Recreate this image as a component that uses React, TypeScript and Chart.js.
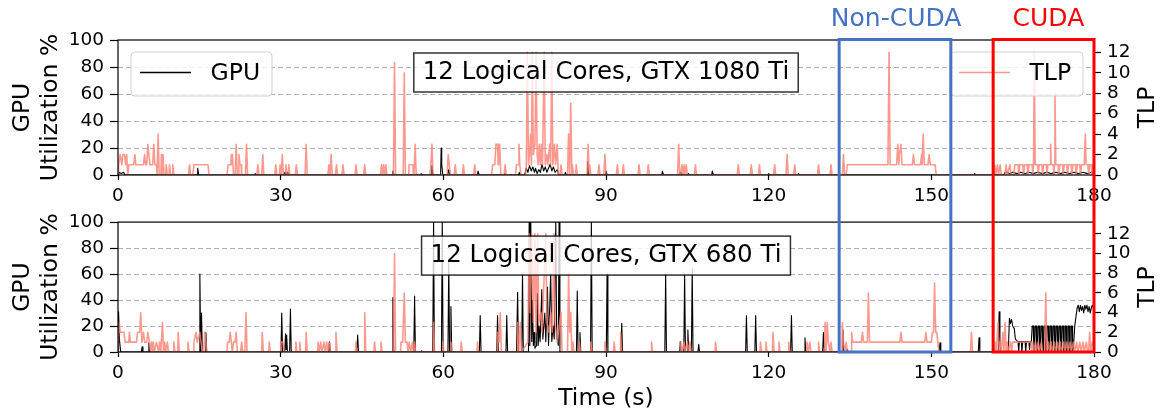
import React, { useEffect, useRef } from 'react';
import { Chart, registerables } from 'chart.js';

Chart.register(...registerables);

const FONT = "'DejaVu Sans', 'Liberation Sans', sans-serif";
Chart.defaults.font.family = FONT;

// ---------- tick labels / categories ----------
const xTicks = [0, 30, 60, 90, 120, 150, 180];
const gpuTicks = [0, 20, 40, 60, 80, 100];
const tlpTicks = [0, 2, 4, 6, 8, 10, 12];
const TLP_MAX = 13.2;
const panelTitles = ['12 Logical Cores, GTX 1080 Ti', '12 Logical Cores, GTX 680 Ti'];
const regionLabels = ['Non-CUDA', 'CUDA'];
const regionFrom = [133.0, 161.4];
const regionTo = [153.6, 180];
const regionLabelAt = [143.5, 171.6];
const regionColors = ['#4472c4', '#ff0000'];

const TLP_COLOR = 'rgba(250,128,114,0.8)';

// ---------- series: [time (s), value] ----------
// Top panel, GPU utilization (%)
const gpuTop: number[][] = [
  [0, 0], [0.3, 2], [0.6, 1], [1.0, 2], [1.3, 0],
  [14.6, 0], [14.7, 5], [14.9, 0],
  [25.2, 0], [25.3, 1], [25.5, 0],
  [30.6, 0], [30.8, 2], [31.0, 0], [31.3, 2], [31.5, 0],
  [50.6, 0], [50.7, 3], [50.9, 0],
  [55.8, 0], [55.9, 1], [56.1, 0],
  [57.8, 0], [57.9, 7], [58.1, 0],
  [59.5, 0], [59.6, 20], [59.7, 8], [59.9, 0],
  [60.8, 0], [61.0, 4], [61.2, 0],
  [66.3, 0], [66.4, 3], [66.6, 0],
  [71.2, 0], [71.3, 1], [71.5, 0],
  [73.9, 0], [74.0, 2], [74.2, 0],
  [75.0, 0], [75.3, 5], [75.6, 2], [75.9, 7], [76.2, 3], [76.5, 6], [76.8, 2], [77.0, 5], [77.3, 1],
  [77.6, 4], [77.9, 2], [78.2, 8], [78.5, 3], [78.8, 6], [79.1, 2], [79.4, 5], [79.7, 8], [80.0, 3],
  [80.3, 6], [80.6, 2], [81.0, 4], [81.3, 0],
  [82.4, 0], [82.5, 2], [82.7, 0],
  [86.5, 0], [86.6, 10], [86.8, 0],
  [89.9, 0], [90.0, 3], [90.2, 0],
  [100.3, 0], [100.4, 3], [100.6, 0],
  [103.5, 0], [103.7, 2], [104.0, 0],
  [105.0, 0], [105.2, 1], [105.4, 0],
  [109.5, 0], [109.6, 3], [109.8, 0],
  [119.9, 0], [120.0, 1], [120.2, 0],
  [125.4, 0], [125.5, 1], [125.7, 0],
  [157.9, 0], [158.0, 1], [158.2, 0],
  [163.4, 0], [163.6, 2], [164.0, 2], [164.4, 1], [165.0, 2], [165.8, 1], [166.5, 2], [167.3, 1],
  [168.0, 2], [168.8, 1], [169.6, 2], [170.5, 1], [171.3, 2], [172.1, 1], [173.0, 2], [173.8, 1],
  [174.6, 2], [175.5, 1], [176.3, 2], [177.1, 1], [178.0, 2], [178.8, 1], [179.5, 2], [180, 1],
];

// Top panel, TLP
const tlpTop: number[][] = [
  [0, 0], [0.1, 1], [0.4, 2], [0.7, 1], [0.9, 2], [1.2, 2], [1.4, 1], [1.6, 2], [1.8, 0],
  [2.0, 1], [2.9, 1], [3.1, 2], [3.3, 1], [4.7, 1], [4.9, 2], [5.1, 1], [5.3, 1], [5.5, 3], [5.7, 2],
  [5.9, 1], [6.4, 1], [6.6, 3], [6.8, 1], [7.1, 1], [7.2, 0], [7.4, 4], [7.6, 0], [7.9, 0], [8.0, 2],
  [8.15, 0], [8.3, 2], [8.5, 0], [8.8, 0], [8.9, 1], [9.1, 0], [9.4, 0], [9.5, 1], [9.7, 0], [10.0, 0],
  [10.1, 1], [10.3, 0],
  [13.0, 0], [13.2, 1], [13.4, 0], [13.8, 0], [14.0, 1], [16.6, 1], [16.8, 0],
  [20.1, 0], [20.3, 1], [20.8, 1], [20.9, 2], [21.0, 1], [21.1, 2], [21.3, 0], [21.6, 0], [21.8, 3],
  [22.0, 0], [22.2, 0], [22.3, 2], [22.5, 1], [22.7, 1], [22.8, 0], [23.5, 0], [23.7, 3], [23.9, 0],
  [25.6, 0], [25.8, 1], [26.0, 0], [26.5, 0], [26.7, 2], [26.9, 0],
  [28.9, 0], [29.1, 1], [29.3, 0], [29.8, 0], [29.9, 1], [30.1, 0], [30.2, 0], [30.3, 2], [30.5, 0],
  [30.9, 0], [31.0, 1], [31.2, 0], [31.4, 0], [31.5, 1], [31.7, 0],
  [32.7, 0], [32.9, 1], [33.1, 0], [34.5, 0], [34.7, 3], [34.9, 0],
  [38.7, 0], [38.9, 1], [39.1, 0], [39.2, 0], [39.3, 2], [39.5, 0], [40.1, 0], [40.3, 1], [40.5, 0],
  [41.3, 0], [41.5, 1], [41.7, 0],
  [43.7, 0], [43.9, 1], [44.1, 0], [45.3, 0], [45.5, 1], [45.7, 0],
  [48.4, 0], [48.6, 1], [48.8, 0], [49.0, 1], [49.2, 0], [49.4, 1], [49.6, 0],
  [50.8, 0], [51.0, 11], [51.2, 0], [52.6, 0], [52.8, 10], [53.0, 0],
  [53.6, 0], [53.7, 1], [54.4, 1], [54.5, 0], [54.6, 0], [54.8, 3], [55.0, 0],
  [57.5, 0], [57.7, 1], [57.9, 3], [58.1, 0],
  [60.7, 0], [60.9, 2], [61.1, 1], [61.3, 0], [62.0, 0], [62.2, 1], [62.4, 0], [63.5, 0], [63.7, 1],
  [63.9, 0], [65.6, 0], [65.8, 1], [66.0, 0],
  [68.9, 0], [69.1, 1], [69.5, 1], [69.7, 3], [70.0, 3], [70.1, 1], [70.2, 3], [70.4, 3], [70.6, 0],
  [71.2, 0], [71.4, 1], [71.6, 0],
  [73.3, 0], [73.5, 1], [73.8, 1], [73.95, 3], [74.1, 1], [74.3, 0],
  [75.2, 0], [75.3, 1], [75.5, 12], [75.7, 1], [75.9, 2], [76.1, 4], [76.25, 1], [76.4, 12], [76.6, 2],
  [76.9, 3], [77.1, 12], [77.3, 2], [77.5, 1], [77.7, 3], [77.9, 1], [78.1, 3], [78.3, 1], [78.6, 12],
  [78.8, 1], [79.1, 2], [79.3, 1], [79.6, 3], [79.8, 1], [80.0, 12], [80.2, 1], [80.5, 3], [80.7, 1],
  [81.0, 3], [81.2, 0],
  [81.5, 0], [81.7, 1], [81.9, 0],
  [82.9, 0], [83.1, 4], [83.3, 0], [83.5, 7], [83.7, 0], [83.8, 1], [84.0, 0], [84.4, 0], [84.5, 1], [84.7, 0],
  [86.5, 0], [86.7, 3], [86.9, 0], [87.0, 1], [87.2, 0],
  [88.5, 0], [88.7, 1], [88.9, 0], [89.6, 0], [89.8, 2], [90.0, 0],
  [91.9, 0], [92.1, 1], [92.3, 0], [93.0, 0], [93.2, 1], [93.4, 0],
  [95.9, 0], [96.1, 1], [96.3, 0], [97.6, 0], [97.8, 1], [98.0, 0],
  [103.2, 0], [103.4, 3], [103.6, 0], [103.8, 0], [104.0, 1], [104.2, 0], [104.4, 1], [104.6, 0],
  [104.8, 1], [105.0, 0],
  [106.3, 0], [106.5, 1], [106.7, 0],
  [114.2, 0], [114.4, 1], [114.6, 0], [116.6, 0], [116.8, 1], [117.0, 0], [118.1, 0], [118.3, 1], [118.5, 0],
  [120.9, 0], [121.1, 1], [121.3, 0], [123.2, 0], [123.4, 2], [123.6, 0], [124.6, 0], [124.8, 1], [125.0, 0],
  [129.0, 0], [129.2, 1], [129.4, 0], [131.3, 0], [131.5, 1], [131.7, 0],
  [133.6, 0], [133.8, 2], [134.0, 0], [134.3, 0], [134.5, 1],
  [142.0, 1], [142.2, 12], [142.4, 1], [143.6, 1], [143.8, 3], [144.0, 1], [144.1, 2], [144.4, 3], [144.6, 1],
  [146.5, 1], [146.7, 2], [146.9, 1], [148.0, 1], [148.2, 2], [148.3, 1], [148.5, 4], [148.7, 1],
  [149.4, 1], [149.6, 2], [149.8, 1], [150.7, 1], [150.9, 0],
  [161.5, 0], [161.7, 1], [161.9, 0], [162.2, 1], [162.4, 0], [162.7, 1], [162.9, 0], [163.6, 0],
  [163.8, 1], [164.0, 0], [164.5, 1], [164.7, 0], [165.2, 0], [165.4, 1], [166.0, 1], [166.1, 0],
  [166.3, 1], [166.9, 1], [167.0, 0], [167.2, 1], [167.7, 1], [167.8, 0], [168.0, 1], [168.6, 1],
  [168.7, 0], [168.85, 1], [169.0, 12], [169.15, 1], [169.6, 1], [169.7, 0], [169.9, 1], [170.4, 1],
  [170.5, 0], [170.7, 1], [171.2, 1], [171.3, 0], [171.5, 1], [171.9, 1], [172.0, 3], [172.1, 1],
  [172.5, 1], [172.6, 0], [172.7, 1], [172.8, 8], [172.95, 1], [173.4, 1], [173.5, 0], [173.7, 1],
  [174.2, 1], [174.3, 0], [174.5, 1], [175.0, 1], [175.1, 0], [175.3, 1], [175.8, 1], [175.9, 0],
  [176.1, 1], [176.6, 1], [176.7, 0], [176.9, 1], [177.4, 1], [177.5, 0], [177.7, 1], [178.2, 1],
  [178.4, 4], [178.55, 1], [178.9, 1], [179.0, 0], [179.2, 1], [179.5, 1], [179.6, 0], [179.8, 1], [180, 1],
];

// Bottom panel, GPU utilization (%)
const gpuBot: number[][] = [
  [0, 0], [0.1, 31], [0.3, 8], [0.5, 0],
  [4.3, 0], [4.45, 4], [4.6, 0], [5.55, 0], [5.7, 7], [5.85, 0],
  [14.95, 0], [15.1, 60], [15.25, 0], [15.3, 0], [15.4, 30], [15.55, 0], [16.05, 0], [16.2, 15], [16.35, 0],
  [30.05, 0], [30.2, 30], [30.35, 0], [30.75, 0], [30.9, 14], [31.0, 2], [31.1, 13], [31.25, 0],
  [31.65, 0], [31.8, 33], [31.95, 0],
  [38.85, 0], [39.0, 8], [39.15, 0], [44.05, 0], [44.2, 13], [44.35, 0],
  [50.55, 0], [50.7, 42], [50.85, 0], [54.55, 0], [54.7, 43], [54.85, 0], [55.9, 0], [56.0, 1], [56.15, 0],
  [58.05, 0], [58.2, 100], [58.35, 0], [59.65, 0], [59.8, 100], [59.95, 0], [60.85, 0], [61.0, 69],
  [61.15, 0], [61.25, 0], [61.4, 35], [61.55, 0],
  [66.65, 0], [66.8, 28], [66.95, 0], [69.85, 0], [70.0, 28], [70.15, 0], [71.55, 0], [71.7, 28], [71.85, 0],
  [73.5, 0], [73.7, 46], [73.85, 0], [74.45, 0], [74.6, 60], [74.75, 0], [75.7, 0], [75.83, 100],
  [75.95, 5], [76.13, 100], [76.3, 8], [76.44, 40], [76.6, 5], [76.75, 15], [76.9, 3], [77.2, 5],
  [77.36, 45], [77.5, 5], [77.67, 20], [77.85, 8], [78.16, 48], [78.35, 10], [78.71, 30], [78.9, 8],
  [79.2, 50], [79.4, 5], [79.8, 60], [80.0, 8], [80.24, 20], [80.45, 10], [80.74, 100], [80.9, 10],
  [81.04, 10], [81.2, 5], [81.35, 100], [81.5, 0],
  [84.55, 0], [84.7, 47], [84.85, 0], [85.05, 0], [85.2, 15], [85.35, 0], [87.15, 0], [87.3, 100], [87.45, 0],
  [90.05, 0], [90.2, 60], [90.35, 0], [92.75, 0], [92.9, 22], [93.05, 0], [100.85, 0], [101.0, 60], [101.15, 0],
  [103.6, 0], [103.7, 8], [103.85, 0], [104.35, 0], [104.5, 60], [104.65, 0], [104.95, 0], [105.1, 17],
  [105.25, 0], [105.75, 0], [105.9, 64], [106.05, 0], [106.95, 0], [107.1, 6], [107.25, 0],
  [115.75, 0], [115.9, 28], [116.05, 0], [117.45, 0], [117.6, 28], [117.75, 0], [124.05, 0], [124.2, 28],
  [124.35, 0], [126.55, 0], [126.7, 11], [126.85, 0], [129.95, 0], [130.1, 15], [130.25, 0],
  [133.55, 0], [133.7, 17], [133.85, 0], [134.35, 0], [134.5, 2], [134.65, 0],
  [151.45, 0], [151.6, 7], [151.75, 0], [158.65, 0], [158.8, 11], [158.95, 0],
  [162.35, 0], [162.5, 31], [162.65, 5], [162.9, 0], [164.2, 0], [164.4, 26], [164.6, 22], [164.8, 25],
  [165.0, 20], [165.3, 18], [165.5, 10], [165.7, 9], [166.0, 8], [166.1, 0], [166.25, 8], [166.6, 8],
  [166.7, 0], [166.85, 8], [167.3, 8], [167.4, 0], [167.55, 8], [168.0, 8], [168.1, 2], [168.25, 8], [168.45, 8],
  [168.6, 20], [168.8, 20], [168.9, 1], [169.05, 1],
  [169.15, 20], [169.35, 20], [169.45, 1], [169.6, 1],
  [169.7, 20], [169.9, 20], [170.0, 1], [170.15, 1],
  [170.25, 20], [170.45, 20], [170.55, 1], [170.7, 1],
  [170.8, 20], [171.0, 20], [171.1, 1], [171.25, 1],
  [171.35, 20], [171.55, 20], [171.65, 1], [171.8, 1],
  [171.9, 20], [172.1, 20], [172.2, 1], [172.35, 1],
  [172.45, 20], [172.65, 20], [172.75, 1], [172.9, 1],
  [173.0, 20], [173.2, 20], [173.3, 1], [173.45, 1],
  [173.55, 20], [173.75, 20], [173.85, 1], [174.0, 1],
  [174.1, 20], [174.3, 20], [174.4, 1], [174.55, 1],
  [174.65, 20], [174.85, 20], [174.95, 1], [175.1, 1],
  [175.2, 20], [175.4, 20], [175.5, 1], [175.65, 1],
  [175.75, 20], [175.95, 20], [176.05, 1], [176.2, 3],
  [176.45, 20], [176.7, 28], [176.9, 34], [177.1, 36], [177.3, 31], [177.5, 36], [177.7, 32], [177.9, 35],
  [178.1, 30], [178.3, 36], [178.5, 33], [178.7, 36], [178.9, 31], [179.1, 35], [179.3, 30], [179.5, 34],
  [179.7, 36], [180, 33],
];

// Bottom panel, TLP
const tlpBot: number[][] = [
  [0, 0], [0.2, 3], [0.4, 2], [1.1, 2], [1.3, 1], [2.0, 1], [2.1, 2], [2.3, 1], [3.4, 1], [3.6, 2],
  [4.0, 2], [4.2, 4], [4.4, 1], [4.7, 2], [4.9, 1], [5.3, 1], [5.5, 2], [5.8, 1], [6.0, 0], [6.2, 1],
  [6.4, 0], [6.5, 1], [6.7, 0], [7.1, 1], [7.5, 0], [7.7, 1], [7.9, 0], [8.2, 3], [8.4, 0], [8.6, 1],
  [8.8, 0], [9.1, 1], [9.3, 0], [10.2, 0], [10.3, 1], [10.5, 0], [11.0, 0], [11.1, 2], [11.3, 0],
  [12.8, 0], [12.9, 1], [13.1, 0], [13.9, 0], [14.0, 1], [14.4, 2], [14.6, 1], [15.1, 2], [15.3, 1],
  [15.6, 0], [15.8, 0], [16.0, 2], [16.2, 1], [16.4, 0],
  [20.1, 0], [20.2, 1], [20.5, 1], [20.7, 2], [20.9, 1], [21.1, 0], [21.3, 1], [21.6, 1], [21.8, 2],
  [22.0, 0], [22.6, 0], [22.8, 1], [23.0, 0], [23.4, 0], [23.6, 4], [23.8, 0],
  [26.5, 0], [26.6, 2], [26.8, 0], [27.8, 0], [27.9, 1], [28.1, 0], [29.9, 0], [30.0, 1], [30.4, 1],
  [30.6, 0], [32.7, 0], [32.8, 1], [33.0, 0], [33.4, 0], [33.5, 1], [33.7, 0], [34.6, 0], [34.7, 2],
  [34.9, 0], [36.8, 0], [36.9, 1], [37.1, 0], [37.4, 1], [37.6, 0], [38.0, 1], [38.2, 0], [38.5, 1],
  [38.7, 0], [39.0, 1], [39.2, 0], [40.1, 0], [40.2, 2], [40.4, 0], [43.8, 0], [43.9, 1], [44.1, 0],
  [45.4, 0], [45.5, 4], [45.7, 0], [47.2, 0], [47.3, 1], [47.5, 0], [48.4, 0], [48.5, 1], [48.7, 0],
  [50.8, 0], [51.0, 10], [51.2, 0], [52.1, 0], [52.2, 1], [52.5, 1], [52.8, 6], [53.0, 1], [53.3, 1],
  [53.5, 0], [53.7, 1], [54.0, 0], [54.3, 1], [54.5, 0], [54.7, 1], [54.9, 0],
  [58.1, 0], [58.2, 3], [58.4, 0], [59.8, 0], [59.9, 1], [60.1, 0], [61.3, 0], [61.4, 1], [61.6, 0],
  [63.2, 0], [63.3, 1], [63.5, 0], [66.2, 0], [66.3, 1], [66.5, 0], [69.9, 0], [70.0, 2], [70.3, 1],
  [70.5, 4], [70.7, 0], [73.6, 0], [73.7, 3], [73.9, 0], [74.2, 3], [74.4, 0],
  [75.6, 1], [75.8, 12], [76.0, 4], [76.3, 12], [76.6, 3], [76.9, 12], [77.1, 2], [77.4, 12], [77.6, 3],
  [78.0, 4], [78.2, 2], [78.9, 12], [79.1, 3], [79.5, 2], [79.8, 4], [80.1, 2], [80.4, 12], [80.6, 3],
  [81.0, 1], [81.7, 4], [81.9, 0], [82.9, 0], [83.1, 8], [83.3, 2], [83.5, 4], [83.7, 0], [83.9, 1],
  [84.1, 0], [85.0, 0], [85.1, 1], [85.3, 0], [87.1, 0], [87.2, 1], [87.4, 0], [89.7, 0], [89.8, 1],
  [90.0, 0], [91.4, 0], [91.5, 1], [91.7, 0], [92.6, 0], [92.7, 2], [92.9, 0], [98.3, 0], [98.4, 1],
  [98.6, 0], [103.7, 0], [103.8, 1], [104.0, 0], [104.4, 1], [104.6, 0], [105.0, 1], [105.2, 0],
  [105.5, 1], [105.7, 0], [110.1, 0], [110.2, 1], [110.4, 0], [118.4, 0], [118.5, 1], [118.7, 0],
  [119.4, 0], [119.5, 1], [119.7, 0], [120.7, 0], [120.8, 2], [121.0, 0], [121.8, 0], [121.9, 1],
  [122.1, 0], [123.6, 0], [123.7, 1], [123.9, 0], [127.0, 0], [127.1, 1], [127.3, 0], [127.6, 1],
  [127.8, 0], [129.1, 0], [129.2, 1], [129.4, 0], [130.3, 0], [130.4, 3], [130.6, 0], [130.8, 3],
  [131.0, 1], [131.3, 0], [131.5, 1], [131.7, 0], [133.5, 0], [133.6, 3], [133.8, 1], [134.0, 0],
  [134.3, 1], [134.5, 0], [135.2, 0], [135.3, 2], [135.5, 1], [137.1, 1], [137.3, 2], [137.5, 1],
  [138.2, 1], [138.4, 6], [138.6, 1], [144.2, 1], [144.4, 2], [144.6, 1], [148.8, 1], [149.0, 2],
  [149.2, 1], [150.0, 1], [150.2, 2], [150.4, 2], [150.6, 7], [150.8, 2], [151.0, 2], [151.2, 1], [151.4, 0],
  [157.2, 0], [157.4, 2], [157.6, 0],
  [161.6, 0], [161.8, 1], [162.0, 0], [162.3, 3], [162.5, 0], [162.7, 1], [162.9, 0], [163.2, 2],
  [163.4, 0], [163.6, 3], [163.8, 0], [164.0, 1], [164.2, 0], [164.6, 1], [164.8, 0], [165.0, 1],
  [168.4, 1], [168.5, 0], [168.7, 1], [168.9, 0], [169.2, 1], [169.4, 0], [169.7, 1], [169.9, 0],
  [170.3, 1], [170.5, 0], [170.9, 0], [171.1, 6], [171.3, 0], [171.6, 1], [171.8, 0], [172.1, 1],
  [172.3, 0], [172.7, 1], [172.9, 0], [173.3, 1], [173.5, 0], [173.8, 1], [174.0, 0], [174.4, 1],
  [174.6, 0], [175.0, 1], [175.2, 0], [175.6, 1], [175.8, 0], [176.2, 1], [176.4, 0], [176.8, 1],
  [177.0, 0], [177.4, 1], [177.6, 0], [178.0, 1], [178.2, 0], [178.6, 1], [178.8, 0], [179.0, 0],
  [179.2, 2], [179.4, 0], [179.7, 1], [180, 1],
];

const toPts = (arr: number[][]) => arr.map(([x, y]) => ({ x, y }));

function drawLegend(ctx: CanvasRenderingContext2D, x: number, y: number, w: number, h: number,
  color: string, lw: number, label: string) {
  ctx.save();
  ctx.beginPath();
  (ctx as any).roundRect(x, y, w, h, 4);
  ctx.fillStyle = 'rgba(255,255,255,0.8)';
  ctx.fill();
  ctx.strokeStyle = 'rgba(204,204,204,0.9)';
  ctx.lineWidth = 1;
  ctx.stroke();
  ctx.beginPath();
  ctx.moveTo(x + 9, y + 20.5);
  ctx.lineTo(x + 60, y + 20.5);
  ctx.strokeStyle = color;
  ctx.lineWidth = lw;
  ctx.stroke();
  ctx.fillStyle = '#000';
  ctx.font = `23.5px ${FONT}`;
  ctx.textAlign = 'left';
  ctx.textBaseline = 'middle';
  ctx.fillText(label, x + 79.5, y + 21.5);
  ctx.restore();
}

function makePlugin(panel: number) {
  return {
    id: 'overlay' + panel,
    afterDatasetsDraw(chart: any) {
      const { ctx, chartArea: a } = chart;
      ctx.save();
      ctx.strokeStyle = '#000';
      ctx.lineWidth = 1.2;
      ctx.strokeRect(a.left, a.top, a.right - a.left, a.bottom - a.top);
      if (panel === 0) {
        drawLegend(ctx, a.left + 13, a.top + 12, 141, 44, '#000', 1.5, 'GPU');
        drawLegend(ctx, a.right - 11 - 133, a.top + 12, 133, 44, TLP_COLOR, 1.6, 'TLP');
      }
      const title = panelTitles[panel];
      ctx.font = `24.5px ${FONT}`;
      const tw = ctx.measureText(title).width;
      const bw = tw + 18;
      const bh = 39;
      const cx = (a.left + a.right) / 2;
      const by = a.top + (panel === 0 ? 13 : 14);
      ctx.fillStyle = 'rgba(255,255,255,0.8)';
      ctx.fillRect(cx - bw / 2, by, bw, bh);
      ctx.strokeStyle = 'rgba(0,0,0,0.8)';
      ctx.lineWidth = 1.5;
      ctx.strokeRect(cx - bw / 2, by, bw, bh);
      ctx.fillStyle = '#000';
      ctx.textAlign = 'center';
      ctx.textBaseline = 'middle';
      ctx.fillText(title, cx, by + bh / 2);
      ctx.restore();
    },
    afterDraw(chart: any) {
      const { ctx, chartArea: a, scales } = chart;
      const xs = scales.x;
      ctx.save();
      // right axis title
      ctx.save();
      ctx.translate(a.right + 54, (a.top + a.bottom) / 2);
      ctx.rotate(-Math.PI / 2);
      ctx.fillStyle = '#000';
      ctx.font = `23.5px ${FONT}`;
      ctx.textAlign = 'center';
      ctx.textBaseline = 'middle';
      ctx.fillText('TLP', 0, 0);
      ctx.restore();
      // highlighted regions
      ctx.lineWidth = 3;
      ctx.lineJoin = 'miter';
      for (let i = 0; i < regionLabels.length; i++) {
        const x1 = xs.getPixelForValue(regionFrom[i]);
        const x2 = xs.getPixelForValue(regionTo[i]);
        ctx.strokeStyle = regionColors[i];
        ctx.beginPath();
        if (panel === 0) {
          ctx.moveTo(x1, chart.height + 3);
          ctx.lineTo(x1, a.top - 0.5);
          ctx.lineTo(x2, a.top - 0.5);
          ctx.lineTo(x2, chart.height + 3);
        } else {
          ctx.moveTo(x1, -3);
          ctx.lineTo(x1, a.bottom);
          ctx.lineTo(x2, a.bottom);
          ctx.lineTo(x2, -3);
        }
        ctx.stroke();
        if (panel === 0) {
          ctx.fillStyle = regionColors[i];
          ctx.font = `25px ${FONT}`;
          ctx.textAlign = 'center';
          ctx.textBaseline = 'alphabetic';
          ctx.fillText(regionLabels[i], xs.getPixelForValue(regionLabelAt[i]), 25.5);
        }
      }
      ctx.restore();
    },
  };
}

function makeConfig(panel: number, gpu: number[][], tlp: number[][]): any {
  const isTop = panel === 0;
  const tickFont = { family: FONT, size: 18.5 };
  const titleFont = { family: FONT, size: 23.5, lineHeight: 1.2 };
  return {
    type: 'line',
    data: {
      datasets: [
        {
          label: 'TLP', data: toPts(tlp), yAxisID: 'yR', borderColor: TLP_COLOR,
          borderWidth: 1.6, pointRadius: 0, borderJoinStyle: 'round', tension: 0, order: 1,
        },
        {
          label: 'GPU', data: toPts(gpu), yAxisID: 'yL', borderColor: '#000',
          borderWidth: 1.1, pointRadius: 0, borderJoinStyle: 'round', tension: 0, order: 2,
        },
      ],
    },
    options: {
      animation: false,
      responsive: false,
      devicePixelRatio: 1,
      events: [],
      layout: { padding: { top: isTop ? 40 : 12, left: 0, right: 0, bottom: 0 } },
      plugins: { legend: { display: false }, tooltip: { enabled: false } },
      scales: {
        x: {
          type: 'linear', min: 0, max: 180,
          afterBuildTicks: (s: any) => { s.ticks = xTicks.map((v) => ({ value: v })); },
          afterFit: (s: any) => { s.height = isTop ? 30 : 64; },
          ticks: { font: tickFont, color: '#000', padding: 5, maxRotation: 0, autoSkip: false },
          grid: { drawOnChartArea: false, drawTicks: true, tickLength: 5, tickColor: '#000', tickWidth: 1.2 },
          border: { display: false },
          title: {
            display: !isTop, text: 'Time (s)', font: titleFont, color: '#000',
            padding: { top: 4, bottom: 3 },
          },
        },
        yL: {
          type: 'linear', position: 'left', min: 0, max: 100,
          afterBuildTicks: (s: any) => { s.ticks = gpuTicks.map((v) => ({ value: v })); },
          afterFit: (s: any) => { s.width = 118; },
          ticks: { font: tickFont, color: '#000', padding: 6, autoSkip: false },
          grid: {
            color: (c: any) => (c.tick && (c.tick.value === 0 || c.tick.value === 100) ? 'rgba(0,0,0,0)' : '#b0b0b0'),
            lineWidth: 1, tickLength: 8, tickColor: '#000', tickWidth: 1.2, tickBorderDash: [],
          },
          border: { display: false, dash: [5, 3] },
          title: {
            display: true, text: ['GPU', 'Utilization %'], font: titleFont, color: '#000',
            padding: { top: 8.5, bottom: 0 },
          },
        },
        yR: {
          type: 'linear', position: 'right', min: 0, max: TLP_MAX,
          afterBuildTicks: (s: any) => { s.ticks = tlpTicks.map((v) => ({ value: v })); },
          afterFit: (s: any) => { s.width = 72; },
          ticks: { font: tickFont, color: '#000', padding: 6, autoSkip: false },
          grid: { drawOnChartArea: false, tickLength: 7, tickColor: '#000', tickWidth: 1.2 },
          border: { display: false },
        },
      },
    },
    plugins: [makePlugin(panel)],
  };
}

export default function App() {
  const topRef = useRef<HTMLCanvasElement>(null);
  const botRef = useRef<HTMLCanvasElement>(null);
  useEffect(() => {
    const c1 = new Chart(topRef.current as HTMLCanvasElement, makeConfig(0, gpuTop, tlpTop));
    const c2 = new Chart(botRef.current as HTMLCanvasElement, makeConfig(1, gpuBot, tlpBot));
    return () => {
      c1.destroy();
      c2.destroy();
    };
  }, []);
  return (
    <div style={{ position: 'absolute', left: 0, top: 0, width: 1166, height: 416, background: '#fff', overflow: 'hidden' }}>
      <canvas ref={topRef} width={1166} height={205}
        style={{ position: 'absolute', left: 0, top: 0, width: 1166, height: 205 }} />
      <canvas ref={botRef} width={1166} height={211}
        style={{ position: 'absolute', left: 0, top: 205, width: 1166, height: 211 }} />
    </div>
  );
}
